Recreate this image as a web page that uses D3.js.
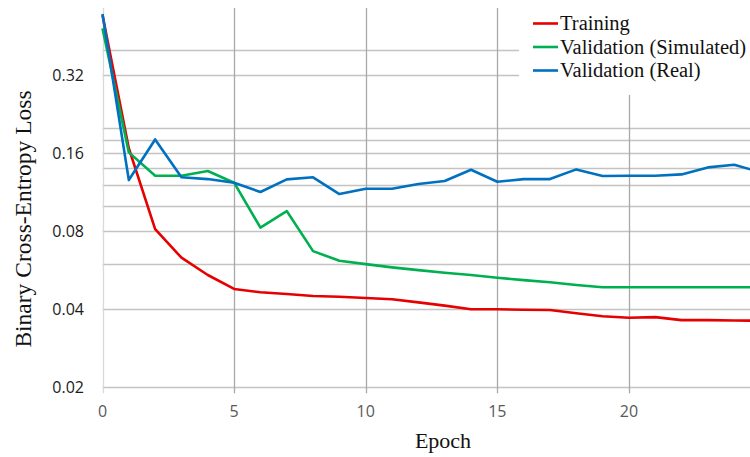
<!DOCTYPE html>
<html>
<head>
<meta charset="utf-8">
<script src="https://cdn.jsdelivr.net/npm/d3@7"></script>
<style>
  body { margin: 0; background: #fff; }
  svg { display: block; }
</style>
</head>
<body>
<div id="chart"></div>
<script>
// Epochs and loss values
const epochs = d3.range(0, 26);
const training = [0.545, 0.167, 0.0815, 0.0632, 0.0542, 0.0479, 0.0465, 0.0458, 0.045, 0.0447,
  0.0442, 0.0437, 0.0425, 0.0413, 0.0400, 0.0400, 0.0398, 0.0397, 0.0386, 0.0376,
  0.0371, 0.0373, 0.0363, 0.0363, 0.0362, 0.0361];
const valSimulated = [0.484, 0.161, 0.1308, 0.1308, 0.1364, 0.123, 0.0825, 0.0956, 0.067, 0.0615,
  0.0597, 0.058, 0.0566, 0.0553, 0.0542, 0.0529, 0.0518, 0.0508, 0.0496, 0.0486,
  0.0486, 0.0486, 0.0486, 0.0486, 0.0486, 0.0486];
const valReal = [0.55, 0.1259, 0.1806, 0.129, 0.127, 0.123, 0.1132, 0.1267, 0.129, 0.1112,
  0.1166, 0.1166, 0.1215, 0.1248, 0.138, 0.124, 0.127, 0.127, 0.1384, 0.1305,
  0.1308, 0.1308, 0.1324, 0.1409, 0.1442, 0.135];

const yTicks = [0.02, 0.04, 0.08, 0.16, 0.32];
const yGrid = [0.02, 0.04, 0.06, 0.08, 0.1, 0.12, 0.14, 0.16, 0.18, 0.2, 0.32, 0.4];
const xTicks = [0, 5, 10, 15, 20];

const series = [
  { name: 'Training', values: training, color: '#e60000' },
  { name: 'Validation (Simulated)', values: valSimulated, color: '#00b050' },
  { name: 'Validation (Real)', values: valReal, color: '#0070c0' }
];

const W = 750, H = 457;
const plot = { left: 102.5, right: 750, top: 8, bottom: 387.3 };

const svg = d3.select('#chart').append('svg')
  .attr('width', W).attr('height', H);

const x = d3.scaleLinear().domain([0, 24.6]).range([plot.left, plot.right]);
const y = d3.scaleLog().base(2).domain([0.02, 0.58]).range([plot.bottom, plot.top]);

// legend box area hides parts of the grid
const legendLeft = 519, legendBottom = 95;

// horizontal grid
svg.append('g').selectAll('line')
  .data(yGrid).enter().append('line')
  .attr('x1', plot.left)
  .attr('x2', d => y(d) < legendBottom ? legendLeft : plot.right)
  .attr('y1', d => Math.round(y(d)) + 0.5)
  .attr('y2', d => Math.round(y(d)) + 0.5)
  .attr('stroke', '#c3c3c3')
  .attr('stroke-width', 1.4);

// vertical grid
svg.append('g').selectAll('line')
  .data(xTicks).enter().append('line')
  .attr('x1', d => Math.round(x(d)) + 0.5)
  .attr('x2', d => Math.round(x(d)) + 0.5)
  .attr('y1', d => x(d) > legendLeft + 20 ? legendBottom : plot.top)
  .attr('y2', plot.bottom + 6)
  .attr('stroke', d => d === 0 ? '#d9d9d9' : '#a8a8a8')
  .attr('stroke-width', 1.3);

// y tick labels
svg.append('g').selectAll('text')
  .data(yTicks).enter().append('text')
  .attr('x', 84)
  .attr('y', d => y(d))
  .attr('dy', '0.35em')
  .attr('text-anchor', 'end')
  .attr('font-family', '"Open Sans", sans-serif')
  .attr('font-size', 16)
  .attr('fill', '#1a1a1a')
  .text(d => d);

// x tick labels
svg.append('g').selectAll('text')
  .data(xTicks).enter().append('text')
  .attr('x', d => x(d))
  .attr('y', 417)
  .attr('text-anchor', 'middle')
  .attr('font-family', '"Open Sans", sans-serif')
  .attr('font-size', 16)
  .attr('fill', '#595959')
  .text(d => d);

// axis titles
svg.append('text')
  .attr('x', 443).attr('y', 448)
  .attr('text-anchor', 'middle')
  .attr('font-family', '"Liberation Serif", serif')
  .attr('font-size', 22)
  .attr('fill', '#111')
  .text('Epoch');

svg.append('text')
  .attr('transform', 'translate(31,219) rotate(-90)')
  .attr('text-anchor', 'middle')
  .attr('font-family', '"Liberation Serif", serif')
  .attr('font-size', 23.5)
  .attr('fill', '#111')
  .text('Binary Cross-Entropy Loss');

// lines
svg.append('clipPath').attr('id', 'clip')
  .append('rect').attr('x', plot.left - 2).attr('y', 0)
  .attr('width', plot.right - plot.left + 2).attr('height', plot.bottom + 2);

const line = d3.line()
  .x((d, i) => x(epochs[i]))
  .y(d => y(d));

svg.append('g').attr('clip-path', 'url(#clip)')
  .selectAll('path')
  .data(series).enter().append('path')
  .attr('d', s => line(s.values))
  .attr('fill', 'none')
  .attr('stroke', s => s.color)
  .attr('stroke-width', 2.6)
  .attr('stroke-linejoin', 'round');

// legend
const legend = svg.append('g').selectAll('g')
  .data(series).enter().append('g')
  .attr('transform', (d, i) => `translate(533,${23.5 + i * 23.5})`);

legend.append('line')
  .attr('x1', 0).attr('x2', 25)
  .attr('stroke', d => d.color)
  .attr('stroke-width', 2.6);

legend.append('text')
  .attr('x', 27).attr('dy', '0.33em')
  .attr('font-family', '"Liberation Serif", serif')
  .attr('font-size', 20.5)
  .attr('fill', '#111')
  .text(d => d.name);
</script>
</body>
</html>
